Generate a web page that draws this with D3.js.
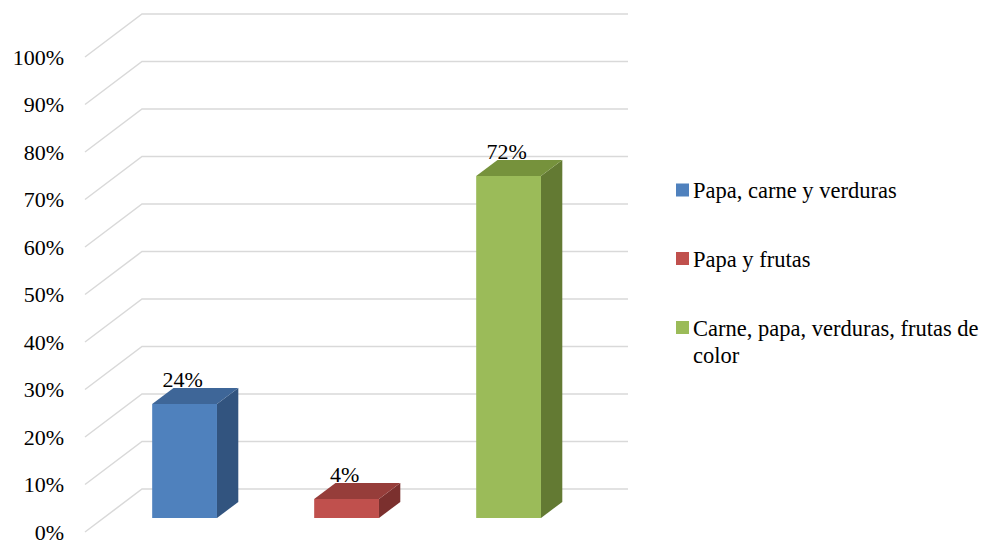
<!DOCTYPE html>
<html><head><meta charset="utf-8">
<script src="https://cdn.jsdelivr.net/npm/d3@7"></script>
<style>
@font-face{font-family:"ChartSerif";src:local("Liberation Serif"),local("LiberationSerif"),local("LiberationSerif-Regular"),local("Times New Roman"),local("Tinos");}
body{margin:0;background:#fff}
svg text{font-family:"Liberation Serif","ChartSerif","Times New Roman",Tinos,FreeSerif;}
</style>
</head><body><svg id="c" width="1006" height="544"></svg>
<script>
const categories = ["Papa, carne y verduras", "Papa y frutas", "Carne, papa, verduras, frutas de color"];
const values = [0.24, 0.04, 0.72];
const labels = ["24%", "4%", "72%"];
const ticks = [0, 0.1, 0.2, 0.3, 0.4, 0.5, 0.6, 0.7, 0.8, 0.9, 1.0];
const frontColors = ["#4F81BD", "#C0504D", "#9BBB59"];
const topColors = ["#3E6698", "#963D3A", "#76923C"];
const sideColors = ["#32547F", "#7B302E", "#637A33"];

const svg = d3.select("#c");
const DX = 57, DY = -43;          // full depth offset
const d0 = 0.326, d1 = 0.70;      // bar depth range
const x = d3.scaleBand().domain(categories).range([85, 571]).paddingInner(0.6).paddingOuter(0.3);
const y = d3.scaleLinear().domain([0, 1]).range([532, 57]);
const P = (px, v, d) => [px + DX * d, y(v) + DY * d];
const fmt = d3.format(".0%");

// gridlines
ticks.forEach(t => {
  const a = P(85, t, 0), b = P(85, t, 1);
  svg.append("path").attr("d", `M${a}L${b}L${628},${b[1]}`)
    .attr("fill", "none").attr("stroke", "#D9D9D9").attr("stroke-width", 1.5);
  svg.append("text").attr("x", 64).attr("y", a[1] + 7.5)
    .attr("text-anchor", "end").attr("font-size", 22).text(fmt(t));
});

// bars
categories.forEach((c, i) => {
  const x0 = x(c), x1 = x0 + x.bandwidth(), v = values[i];
  const poly = pts => "M" + pts.map(p => p.join(",")).join("L") + "Z";
  svg.append("path").attr("d", poly([P(x1, 0, d0), P(x1, 0, d1), P(x1, v, d1), P(x1, v, d0)])).attr("fill", sideColors[i]);
  svg.append("path").attr("d", poly([P(x0, v, d0), P(x1, v, d0), P(x1, v, d1), P(x0, v, d1)])).attr("fill", topColors[i]);
  svg.append("path").attr("d", poly([P(x0, 0, d0), P(x1, 0, d0), P(x1, v, d0), P(x0, v, d0)])).attr("fill", frontColors[i]);
  const lp = P(x0 + x.bandwidth() / 2, v, d1);
  svg.append("text").attr("x", lp[0] - DX * (d1 - d0) - 2).attr("y", lp[1] - 1)
    .attr("text-anchor", "middle").attr("font-size", 22).text(labels[i]);
});

// legend
const legendLines = [["Papa, carne y verduras"], ["Papa y frutas"], ["Carne, papa, verduras, frutas de", "color"]];
const legY = [198, 266.5, 335.5];
legendLines.forEach((lines, i) => {
  svg.append("rect").attr("x", 676).attr("y", legY[i] - 14.5).attr("width", 13).attr("height", 13).attr("fill", frontColors[i]);
  lines.forEach((ln, j) => {
    svg.append("text").attr("x", 693).attr("y", legY[i] + j * 27)
      .attr("font-size", 22.5).text(ln);
  });
});
</script></body></html>
